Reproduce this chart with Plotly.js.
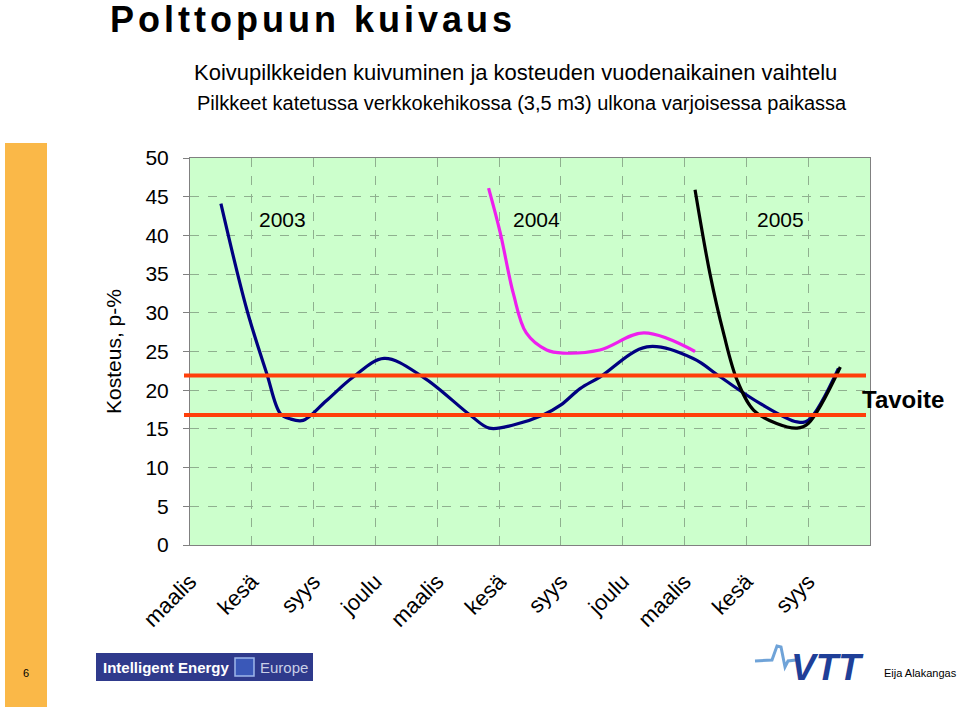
<!DOCTYPE html>
<html>
<head>
<meta charset="utf-8">
<script src="https://cdn.plot.ly/plotly-3.0.1.min.js"></script>
<style>
html,body{margin:0;padding:0;background:#fff;}
#chart{width:960px;height:707px;}
.gtitle{letter-spacing:4px;}
</style>
</head>
<body>
<div id="chart"></div>
<script>
// ---- data ----
const tickLabels = ["maalis","kesä","syys","joulu","maalis","kesä","syys","joulu","maalis","kesä","syys"];
const tickPos = [0,1,2,3,4,5,6,7,8,9,10];

const x2003 = [0.5, 0.92, 1.24, 1.46, 1.62, 1.83, 2.2, 2.64, 3.14, 3.77, 4.53, 4.84, 5.23, 5.71, 6.0, 6.31, 6.63, 7.39, 8.14, 8.58, 9.22, 9.82, 10.0, 10.49];
const y2003 = [44.1, 30.4, 22.2, 17.0, 16.3, 16.1, 18.6, 21.7, 24.1, 21.7, 16.8, 15.1, 15.5, 16.8, 18.1, 20.2, 21.7, 25.6, 24.1, 21.7, 18.3, 15.9, 16.1, 22.8];

const x2004 = [4.83, 5.02, 5.23, 5.44, 5.77, 6.04, 6.63, 7.34, 8.17];
const y2004 = [46.1, 40.3, 32.5, 27.4, 25.2, 24.8, 25.2, 27.4, 25.0];

const x2005 = [8.17, 8.41, 8.63, 8.85, 9.12, 9.49, 9.82, 10.0, 10.52];
const y2005 = [45.9, 35.1, 27.4, 21.3, 17.4, 15.7, 15.1, 15.7, 23.0];

const targetLow = 16.8;
const targetHigh = 21.9;

const yearLabels = ["2003","2004","2005"];
const yearLabelX = [1.5, 5.61, 9.55];
const yearLabelY = 42.1;

// ---- geometry helpers (pixel -> paper) ----
const L = 190, R = 90, T = 158, B = 162, W = 960 - L - R, H = 707 - T - B;
const px = v => (v - L) / W;
const py = v => (707 - B - v) / H;

const FONT = "Liberation Sans, Arial, sans-serif";

const traces = [
  {x: x2003, y: y2003, mode: "lines", line: {color: "#000080", width: 3.2, shape: "spline", smoothing: 1}, hoverinfo: "skip"},
  {x: x2004, y: y2004, mode: "lines", line: {color: "#ee1fee", width: 3.2, shape: "spline", smoothing: 1}, hoverinfo: "skip"},
  {x: x2005, y: y2005, mode: "lines", line: {color: "#000000", width: 3.2, shape: "spline", smoothing: 1}, hoverinfo: "skip"}
];

const shapes = [
  // orange side bar
  {type: "rect", xref: "paper", yref: "paper", x0: px(5), x1: px(47), y0: py(143), y1: py(707), fillcolor: "#fab848", line: {width: 0}, layer: "below"},
  // target lines
  {type: "line", xref: "paper", yref: "y", x0: px(184), x1: px(866), y0: targetHigh, y1: targetHigh, line: {color: "#ff3f0a", width: 4}},
  {type: "line", xref: "paper", yref: "y", x0: px(184), x1: px(866), y0: targetLow, y1: targetLow, line: {color: "#ff3f0a", width: 4}},
  // Intelligent Energy Europe logo box
  {type: "rect", xref: "paper", yref: "paper", x0: px(96), x1: px(313), y0: py(681), y1: py(653), fillcolor: "#2f3a8c", line: {width: 0}},
  {type: "rect", xref: "paper", yref: "paper", x0: px(235), x1: px(254), y0: py(676), y1: py(658), fillcolor: "#3a58b8", line: {color: "#9fb6ea", width: 1.5}},
  // VTT wave
  {type: "path", xref: "paper", yref: "paper",
   path: `M ${px(755)} ${py(661)} L ${px(772)} ${py(660)} L ${px(777)} ${py(646)} L ${px(781)} ${py(647)} L ${px(785)} ${py(667)} L ${px(788)} ${py(661)} L ${px(796)} ${py(660)}`,
   line: {color: "#6fa3d8", width: 3}}
];

const annotations = [
  {xref: "paper", yref: "paper", x: px(192), y: py(73), xanchor: "left", yanchor: "middle", showarrow: false,
   text: "Koivupilkkeiden kuivuminen ja kosteuden vuodenaikainen vaihtelu", font: {family: FONT, size: 22, color: "#000"}},
  {xref: "paper", yref: "paper", x: px(195), y: py(103), xanchor: "left", yanchor: "middle", showarrow: false,
   text: "Pilkkeet katetussa verkkokehikossa (3,5 m3) ulkona varjoisessa paikassa", font: {family: FONT, size: 20, color: "#000"}},
  {xref: "paper", yref: "paper", x: px(903), y: py(399), xanchor: "center", yanchor: "middle", showarrow: false,
   text: "<b>Tavoite</b>", font: {family: FONT, size: 24, color: "#000"}},
  {xref: "paper", yref: "paper", x: px(26), y: py(673), xanchor: "center", yanchor: "middle", showarrow: false,
   text: "6", font: {family: FONT, size: 11, color: "#000"}},
  {xref: "paper", yref: "paper", x: px(101), y: py(667), xanchor: "left", yanchor: "middle", showarrow: false,
   text: "<b>Intelligent Energy</b>", font: {family: FONT, size: 15, color: "#ffffff"}},
  {xref: "paper", yref: "paper", x: px(258), y: py(667), xanchor: "left", yanchor: "middle", showarrow: false,
   text: "Europe", font: {family: FONT, size: 15, color: "#c9cfe6"}},
  {xref: "paper", yref: "paper", x: px(827), y: py(667), xanchor: "center", yanchor: "middle", showarrow: false,
   text: "<b><i>VTT</i></b>", font: {family: FONT, size: 37, color: "#1f3f98"}},
  {xref: "paper", yref: "paper", x: px(882), y: py(673), xanchor: "left", yanchor: "middle", showarrow: false,
   text: "Eija Alakangas", font: {family: FONT, size: 11, color: "#000"}}
];
yearLabels.forEach((t, i) => annotations.push({
  xref: "x", yref: "y", x: yearLabelX[i], y: yearLabelY, showarrow: false,
  text: t, font: {family: FONT, size: 21, color: "#000"}
}));

const layout = {
  width: 960, height: 707,
  margin: {l: L, r: R, t: T, b: B, pad: 0},
  paper_bgcolor: "#ffffff",
  plot_bgcolor: "#ccffcc",
  showlegend: false,
  font: {family: FONT, color: "#000"},
  title: {text: "<b>Polttopuun kuivaus</b>", x: 110/960, xref: "container", xanchor: "left",
          y: 1 - 19/707, yref: "container", yanchor: "middle",
          font: {family: FONT, size: 36, color: "#000"}},
  xaxis: {
    range: [0, 11], tickmode: "array", tickvals: tickPos, ticktext: tickLabels,
    tickangle: -45, tickfont: {family: FONT, size: 22, color: "#000"},
    ticklabelstandoff: 14,
    showgrid: true, gridcolor: "#8fb08f", griddash: "dash", gridwidth: 1,
    showline: true, linecolor: "#808080", linewidth: 1, mirror: true,
    ticks: "", zeroline: false, fixedrange: true
  },
  yaxis: {
    range: [0, 50], dtick: 5, tick0: 0,
    tickfont: {family: FONT, size: 21, color: "#000"},
    ticks: "outside", ticklen: 6, tickcolor: "#808080", ticklabelstandoff: 10,
    showgrid: true, gridcolor: "#8fb08f", griddash: "dash", gridwidth: 1,
    showline: true, linecolor: "#808080", linewidth: 1, mirror: true,
    zeroline: false, fixedrange: true,
    title: {text: "Kosteus, p-%", font: {family: FONT, size: 21, color: "#000"}, standoff: 18}
  },
  shapes: shapes,
  annotations: annotations
};

Plotly.newPlot("chart", traces, layout, {displayModeBar: false, staticPlot: true});
</script>
</body>
</html>
